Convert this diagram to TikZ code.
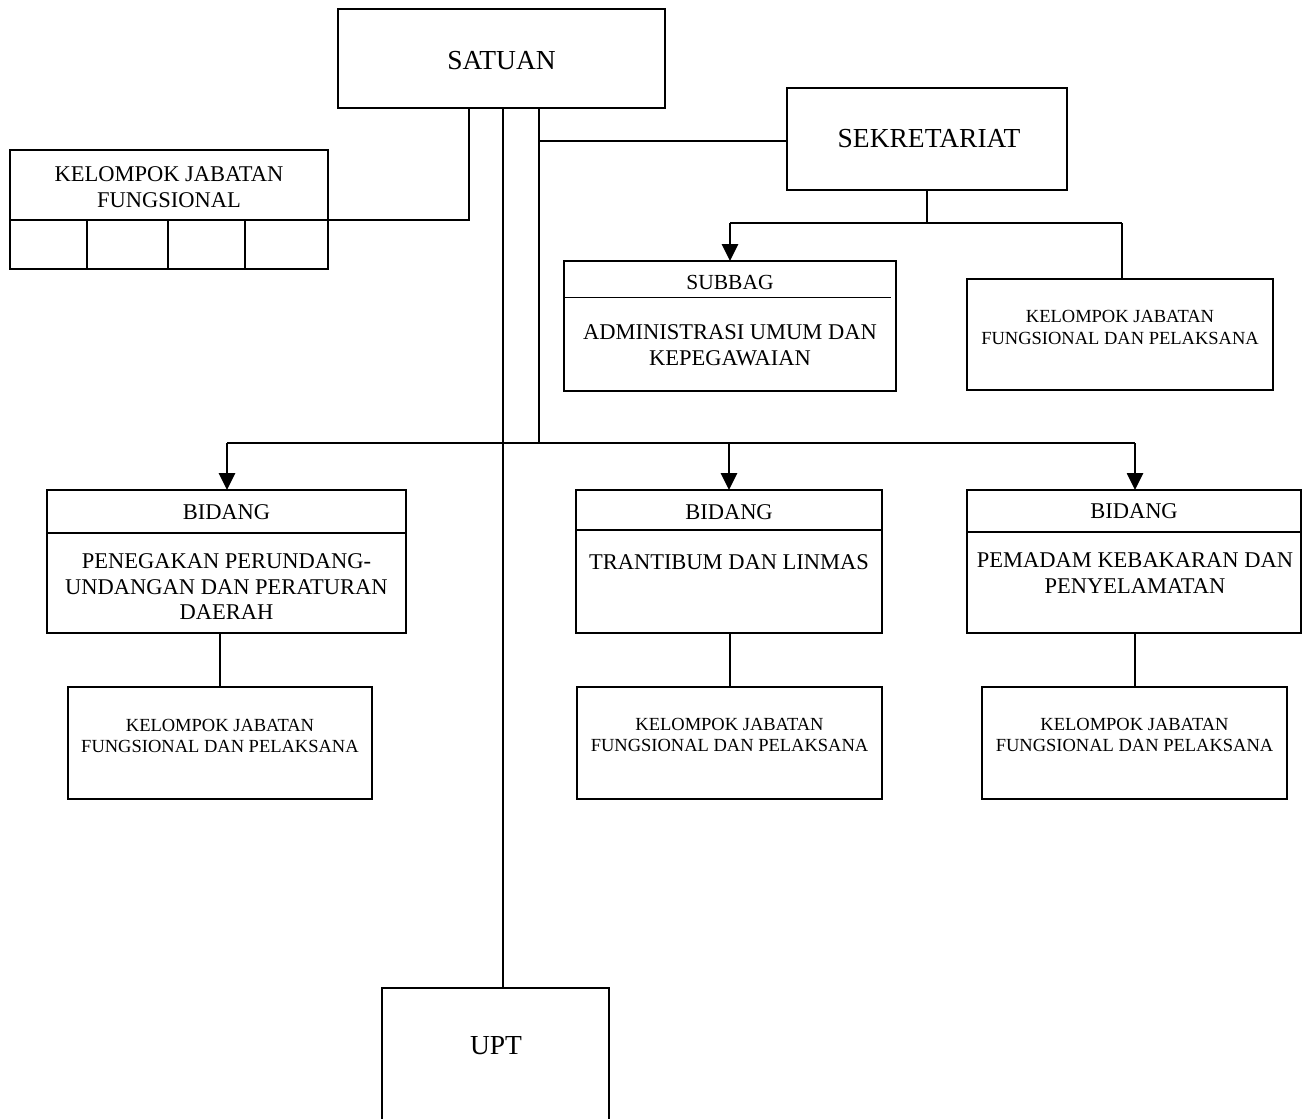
\documentclass[tikz,border=0pt]{standalone}
\usepackage{fontspec}
\setmainfont{Liberation Serif}
\usetikzlibrary{arrows.meta}
\begin{document}
\begin{tikzpicture}[x=1pt,y=-1pt,
  box/.style={draw, line width=2.2pt, rectangle, inner sep=0pt, outer sep=0pt, anchor=north west},
  conn/.style={line width=2.7pt},
  thinconn/.style={line width=1.8pt},
  rule/.style={line width=2.2pt},
  hairline/.style={line width=1pt},
  arr/.style={conn, -{Triangle[width=16pt,length=17pt]}},
  txt/.style={inner sep=0pt, align=center},
  big/.style={txt, font=\fontsize{27.5}{30}\selectfont},
  mid/.style={txt, font=\fontsize{22.5}{25.5}\selectfont},
  sml/.style={txt, font=\fontsize{18.5}{21.5}\selectfont}
]
\useasboundingbox (0,0) rectangle (1304,1119);

% ---- boxes ----
\node[box, minimum width=327pt, minimum height=99pt]  (satuan) at (338,9) {};
\node[box, minimum width=318pt, minimum height=119pt] (kjf)    at (10,150) {};
\node[box, minimum width=280pt, minimum height=102pt] (sek)    at (787,88) {};
\node[box, minimum width=332pt, minimum height=130pt] (subbag) at (564,261) {};
\node[box, minimum width=306pt, minimum height=111pt] (kjfsek) at (967,279) {};
\node[box, minimum width=359pt, minimum height=143pt] (bidA)   at (47,490) {};
\node[box, minimum width=306pt, minimum height=143pt] (bidB)   at (576,490) {};
\node[box, minimum width=334pt, minimum height=143pt] (bidC)   at (967,490) {};
\node[box, minimum width=304pt, minimum height=112pt] (kjfA)   at (68,687) {};
\node[box, minimum width=305pt, minimum height=112pt] (kjfB)   at (577,687) {};
\node[box, minimum width=305pt, minimum height=112pt] (kjfC)   at (982,687) {};
\node[box, minimum width=227pt, minimum height=160pt] (upt)    at (382,988) {};

% ---- inner rules ----
\draw[rule] (kjf.west |- 0,220) -- (kjf.east |- 0,220);
\foreach \xx in {87,168,245} \draw[rule] (\xx,220) -- (\xx,0 |- kjf.south);
\draw[hairline] (subbag.west |- 0,297) -- (891,297);
\draw[rule] (bidA.west |- 0,533) -- (bidA.east |- 0,533);
\draw[rule] (bidB.west |- 0,530) -- (bidB.east |- 0,530);
\draw[rule] (bidC.west |- 0,532) -- (bidC.east |- 0,532);

% ---- texts ----
\node[big] (tSatuan) at (501.5,61) {SATUAN};
\node[big] (tSek)    at (929,139) {SEKRETARIAT};
\node[big] (tUpt)    at (496,1046) {UPT};
\node[mid] (tKjf)    at (169,187) {KELOMPOK JABATAN\\FUNGSIONAL};
\node[txt, font=\fontsize{21.5}{24}\selectfont] (tSubbag) at (730,282) {SUBBAG};
\node[mid] (tAdm)    at (730,345) {ADMINISTRASI UMUM DAN\\KEPEGAWAIAN};
\node[sml] (tKjfSek) at (1120,327.5) {KELOMPOK JABATAN\\FUNGSIONAL DAN PELAKSANA};
\node[mid] (tBidA)   at (226.5,512) {BIDANG};
\node[mid] (tBidB)   at (729,512) {BIDANG};
\node[mid] (tBidC)   at (1134,511) {BIDANG};
\node[mid] (tBodyA)  at (226.5,587) {PENEGAKAN PERUNDANG-\\UNDANGAN DAN PERATURAN\\DAERAH};
\node[mid] (tBodyB)  at (729,562) {TRANTIBUM DAN LINMAS};
\node[mid, font=\fontsize{22.5}{26}\selectfont] (tBodyC) at (1135,573) {PEMADAM KEBAKARAN DAN\\PENYELAMATAN};
\node[sml] (tKjfA)   at (220,736) {KELOMPOK JABATAN\\FUNGSIONAL DAN PELAKSANA};
\node[sml] (tKjfB)   at (729.5,735) {KELOMPOK JABATAN\\FUNGSIONAL DAN PELAKSANA};
\node[sml] (tKjfC)   at (1134.5,735) {KELOMPOK JABATAN\\FUNGSIONAL DAN PELAKSANA};

% ---- connectors ----
\coordinate (bus) at (0,443);
\coordinate (sekBus) at (0,223);
% SATUAN to the functional group on the left
\draw[conn] (satuan.south -| 469,0) |- (kjf.east |- 0,220);
% SATUAN down to UPT
\draw[conn] (satuan.south -| 503,0) -- (upt.north -| 503,0);
% SATUAN down to the bidang bus, with a branch to SEKRETARIAT
\draw[conn] (satuan.south -| 539,0) -- (bus -| 539,0);
\draw[conn] (539,141) -- (sek.west |- 0,141);
\draw[conn] (bus -| 227,0) -- (bus -| 1135,0);
\draw[arr] (bus -| 227,0) -- (bidA.north -| 227,0);
\draw[arr] (bus -| bidB.north) -- (bidB.north);
\draw[arr] (bus -| 1135,0) -- (bidC.north -| 1135,0);
% SEKRETARIAT to its units
\draw[conn] (sek.south) -- (sekBus -| sek.south);
\draw[conn] (sekBus -| subbag.north) -- (sekBus -| 1122,0);
\draw[arr] (sekBus -| subbag.north) -- (subbag.north);
\draw[conn] (sekBus -| 1122,0) -- (kjfsek.north -| 1122,0);
% each bidang to its functional group
\draw[thinconn] (kjfA.north |- bidA.south) -- (kjfA.north);
\draw[thinconn] (bidB.south -| 730,0) -- (kjfB.north -| 730,0);
\draw[thinconn] (bidC.south -| 1135,0) -- (kjfC.north -| 1135,0);
\end{tikzpicture}
\end{document}
